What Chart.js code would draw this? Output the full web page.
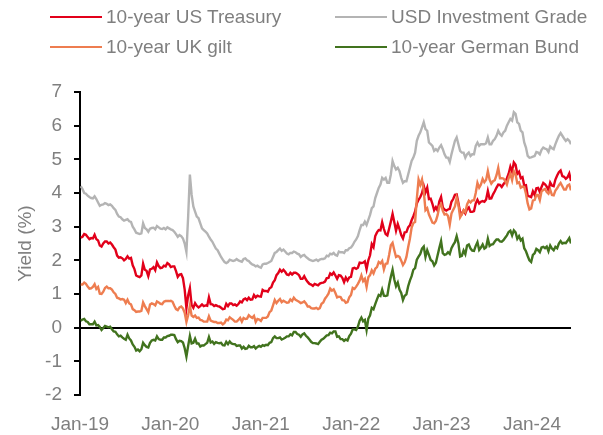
<!DOCTYPE html>
<html>
<head>
<meta charset="utf-8">
<script src="https://cdn.jsdelivr.net/npm/chart.js@4.4.1/dist/chart.umd.min.js"></script>
<style>
  html, body { margin: 0; padding: 0; background: #ffffff; }
  #wrap { position: relative; width: 603px; height: 435px; }
  #legend { position: absolute; left: 0; top: 0; width: 603px; height: 80px;
            font-family: "Liberation Sans", Arial, sans-serif; font-size: 19px; color: #7f7f7f; }
  .item { position: absolute; height: 24px; line-height: 24px; white-space: nowrap; }
  .item .ln { position: absolute; left: 0; top: 11px; width: 52px; height: 2px; }
  .item .tx { position: absolute; left: 56px; top: 0; }
</style>
</head>
<body>
<div id="wrap">
  <canvas id="c" width="603" height="435"></canvas>
  <div id="legend"></div>
</div>
<script>
// Weekly observations (Fridays), first one on this date
const startDate = '2019-01-04';
const xTickLabels = ['Jan-19', 'Jan-20', 'Jan-21', 'Jan-22', 'Jan-23', 'Jan-24'];
const seriesNames = ['10-year US Treasury', 'USD Investment Grade', '10-year UK gilt', '10-year German Bund'];

const usTreasury = [
  2.67,2.70,2.78,2.76, 2.69,2.63,2.66,2.65, 2.76,2.63,2.59,2.44,2.41, 2.50,2.56,2.56,2.50, 2.53,2.47,2.39,2.32,2.14, 2.08,2.09,2.06,2.00, 2.04,2.12,2.05,2.07, 1.85,1.74,1.55,1.52,1.50, 1.55,1.90,1.72,1.69, 1.53,1.73,1.75,1.80, 1.71,1.94,1.83,1.77,1.78, 1.84,1.82,1.92,1.88,
  1.80,1.82,1.82,1.68,1.51, 1.58,1.59,1.47,1.13, 0.58,0.96,1.18,0.67, 0.59,0.73,0.65,0.60, 0.64,0.69,0.64,0.66,0.65, 0.90,0.70,0.69,0.64, 0.67,0.64,0.63,0.59,0.55, 0.56,0.71,0.64,0.72, 0.72,0.67,0.69,0.65, 0.70,0.78,0.75,0.84,0.87, 0.82,0.89,0.83,0.84, 0.97,0.90,0.95,0.93,
  0.92,1.12,1.09,1.09,1.07, 1.17,1.20,1.34,1.41, 1.56,1.62,1.72,1.66, 1.72,1.66,1.58,1.56,1.63, 1.58,1.63,1.63,1.60, 1.56,1.45,1.45,1.53, 1.43,1.36,1.30,1.28,1.24, 1.30,1.28,1.26,1.31, 1.33,1.34,1.37,1.47, 1.48,1.61,1.57,1.64,1.55, 1.45,1.56,1.55,1.48, 1.35,1.49,1.40,1.49,1.51,
  1.76,1.78,1.75,1.78, 1.93,1.92,1.93,1.97, 1.74,2.00,2.15,2.48, 2.39,2.72,2.83,2.90,2.89, 3.13,2.93,2.78,2.74, 2.94,3.15,3.38,3.13, 2.88,3.08,2.93,2.75,2.65, 2.83,2.84,2.98,3.04, 3.19,3.31,3.45,3.69,3.80, 3.88,4.00,4.21,4.02, 4.16,3.82,3.83,3.68, 3.49,3.58,3.48,3.75,3.88,
  3.57,3.51,3.48,3.51, 3.53,3.74,3.82,3.95, 3.96,3.70,3.43,3.38,3.48, 3.39,3.52,3.57,3.44, 3.44,3.46,3.69,3.80, 3.69,3.74,3.76,3.74,3.81, 4.06,3.83,3.84,3.96, 4.05,4.16,4.25,4.24, 4.18,4.26,4.33,4.44,4.57, 4.78,4.63,4.91,4.84, 4.57,4.63,4.44,4.47, 4.22,4.23,3.91,3.90,3.88,
  4.05,3.94,4.14,4.15, 4.03,4.18,4.30,4.26, 4.19,4.08,4.31,4.22,4.20, 4.40,4.52,4.62,4.67, 4.50,4.48,4.42,4.47,4.58, 4.36
];

const usdInvestmentGrade = [
  4.20,4.12,4.00,3.98, 3.92,3.88,3.85,3.84, 3.90,3.82,3.72,3.62,3.65, 3.66,3.70,3.68,3.64, 3.66,3.62,3.55,3.50,3.38, 3.30,3.28,3.22,3.18, 3.20,3.22,3.16,3.14, 3.00,2.92,2.82,2.80,2.78, 2.80,3.10,2.96,2.92, 2.85,2.94,2.96,2.97, 2.92,3.02,2.98,2.94,2.93, 2.96,2.92,2.98,2.95,
  2.92,2.90,2.85,2.78,2.70, 2.75,2.72,2.65,2.50, 2.25,3.30,4.55,3.95, 3.60,3.45,3.30,3.25, 3.10,2.95,2.90,2.85,2.80, 2.70,2.62,2.55,2.45, 2.35,2.30,2.20,2.10,2.02, 1.95,1.92,1.95,2.02, 2.00,1.98,2.00,2.04, 2.00,1.98,1.96,2.04,2.06, 2.00,1.98,1.92,1.88, 1.86,1.82,1.84,1.80,
  1.78,1.88,1.90,1.90,1.92, 1.95,1.98,2.10,2.22, 2.25,2.30,2.35,2.28, 2.32,2.26,2.20,2.18,2.22, 2.22,2.26,2.24,2.20, 2.18,2.10,2.14,2.16, 2.10,2.06,2.02,2.00,1.98, 2.00,2.02,1.98,2.02, 2.04,2.04,2.06,2.14, 2.12,2.20,2.18,2.22,2.16, 2.14,2.26,2.24,2.24, 2.22,2.30,2.30,2.36,2.38,
  2.45,2.55,2.62,2.72, 2.90,3.05,3.05,3.15, 3.05,3.20,3.35,3.55, 3.60,3.85,4.00,4.15,4.25, 4.45,4.40,4.45,4.30, 4.30,4.55,4.95,4.80, 4.70,4.75,4.65,4.45,4.30, 4.35,4.35,4.55,4.75, 4.95,5.05,5.20,5.55,5.70, 5.80,5.95,6.10,5.90, 5.85,5.50,5.45,5.40, 5.25,5.30,5.25,5.35,5.42,
  5.30,5.15,5.05,5.05, 4.92,5.15,5.35,5.55, 5.65,5.45,5.25,5.20,5.20, 5.05,5.15,5.20,5.10, 5.15,5.15,5.40,5.50, 5.40,5.45,5.45,5.45,5.48, 5.65,5.45,5.45,5.55, 5.60,5.70,5.85,5.75, 5.70,5.80,5.85,6.00,6.10, 6.20,6.15,6.40,6.35, 6.10,6.05,5.85,5.80, 5.50,5.35,5.10,5.05,5.06,
  5.08,5.10,5.22,5.20, 5.15,5.28,5.35,5.32, 5.30,5.22,5.38,5.33,5.30, 5.45,5.58,5.70,5.78, 5.70,5.62,5.55,5.60,5.55, 5.45
];

const ukGilt = [
  1.28,1.28,1.34,1.30, 1.22,1.16,1.17,1.21, 1.29,1.15,1.21,1.01,1.00, 1.07,1.18,1.22,1.17, 1.17,1.13,1.05,1.00,0.89, 0.87,0.84,0.85,0.83, 0.73,0.83,0.72,0.69, 0.55,0.52,0.47,0.48,0.48, 0.50,0.75,0.64,0.55, 0.46,0.69,0.72,0.70, 0.66,0.78,0.75,0.71,0.70, 0.77,0.79,0.79,0.79,
  0.80,0.77,0.65,0.55,0.52, 0.60,0.63,0.57,0.44, 0.17,0.37,0.65,0.36, 0.32,0.36,0.29,0.30, 0.23,0.22,0.18,0.18,0.18, 0.34,0.21,0.19,0.17, 0.17,0.14,0.14,0.15,0.10, 0.14,0.24,0.22,0.31, 0.27,0.23,0.18,0.18, 0.23,0.29,0.18,0.29,0.26, 0.27,0.37,0.32,0.29, 0.35,0.17,0.26,0.24,
  0.20,0.29,0.29,0.29,0.33, 0.46,0.51,0.66,0.82, 0.73,0.80,0.85,0.76, 0.80,0.77,0.74,0.75,0.84, 0.79,0.89,0.83,0.80, 0.77,0.73,0.75,0.78, 0.72,0.63,0.63,0.58,0.57, 0.57,0.59,0.55,0.58, 0.71,0.75,0.86,0.93, 1.01,1.16,1.10,1.14,1.03, 0.90,0.92,0.91,0.82, 0.81,0.74,0.76,0.90,0.97,
  1.18,1.15,1.22,1.30, 1.40,1.55,1.38,1.45, 1.21,1.50,1.56,1.70, 1.61,1.75,1.80,1.95,1.91, 1.98,1.73,1.90,1.91, 2.16,2.45,2.52,2.30, 2.10,2.13,2.10,1.99,1.86, 1.94,2.10,2.39,2.64, 2.97,3.11,3.14,3.83,4.40, 4.24,4.40,4.05,3.49, 3.55,3.36,3.24,3.12, 3.10,3.17,3.34,3.60,3.67,
  3.47,3.36,3.38,3.32, 3.06,3.39,3.50,3.60, 3.86,3.65,3.28,3.37,3.49, 3.43,3.66,3.77,3.72, 3.78,3.78,4.00,4.30, 4.16,4.25,4.42,4.32,4.39, 4.65,4.40,4.28,4.35, 4.38,4.53,4.75,4.44, 4.44,4.43,4.36,4.25,4.44, 4.57,4.38,4.65,4.55, 4.29,4.32,4.16,4.19, 4.18,3.98,3.69,3.51,3.54,
  3.78,3.79,3.94,3.94, 3.79,4.05,4.09,4.12, 4.03,3.98,4.10,3.94,3.93, 4.07,4.14,4.23,4.30, 4.20,4.10,4.10,4.22,4.25, 4.08
];

const germanBund = [
  0.21,0.24,0.26,0.19, 0.17,0.10,0.10,0.10, 0.18,0.07,0.08,0.02,-0.07, -0.01,0.05,0.03,0.01, 0.03,-0.05,-0.11,-0.12,-0.20, -0.26,-0.24,-0.29,-0.33, -0.36,-0.21,-0.32,-0.38, -0.50,-0.57,-0.68,-0.65,-0.70, -0.64,-0.45,-0.52,-0.57, -0.59,-0.45,-0.38,-0.36, -0.38,-0.26,-0.34,-0.36,-0.36, -0.29,-0.29,-0.25,-0.24,
  -0.21,-0.21,-0.22,-0.34,-0.43, -0.39,-0.40,-0.44,-0.61, -0.86,-0.54,-0.25,-0.47, -0.45,-0.33,-0.47,-0.47, -0.56,-0.53,-0.53,-0.49,-0.45, -0.28,-0.44,-0.41,-0.48, -0.43,-0.45,-0.46,-0.45,-0.52, -0.53,-0.42,-0.49,-0.41, -0.47,-0.49,-0.49,-0.54, -0.53,-0.53,-0.62,-0.57,-0.63, -0.62,-0.54,-0.58,-0.58, -0.55,-0.62,-0.57,-0.54,
  -0.57,-0.52,-0.54,-0.51,-0.52, -0.45,-0.43,-0.31,-0.26, -0.31,-0.31,-0.29,-0.35, -0.33,-0.30,-0.26,-0.26,-0.20, -0.23,-0.13,-0.13,-0.19, -0.21,-0.27,-0.20,-0.17, -0.24,-0.29,-0.35,-0.42,-0.46, -0.46,-0.47,-0.49,-0.42, -0.36,-0.33,-0.28,-0.23, -0.22,-0.15,-0.17,-0.11,-0.11, -0.27,-0.26,-0.34,-0.34, -0.39,-0.35,-0.38,-0.25,-0.18,
  -0.05,-0.05,-0.07,0.03, 0.21,0.30,0.19,0.23, -0.07,0.27,0.37,0.59, 0.55,0.70,0.84,0.97,0.94, 1.13,0.95,0.94,0.96, 1.27,1.51,1.72,1.43, 1.23,1.34,1.13,1.03,0.82, 0.95,0.99,1.23,1.40, 1.53,1.72,1.77,2.02,2.11, 2.19,2.35,2.41,2.10, 2.30,2.16,2.01,1.97, 1.85,1.93,2.15,2.37,2.57,
  2.21,2.16,2.18,2.24, 2.19,2.36,2.46,2.54, 2.72,2.51,2.11,2.13,2.29, 2.18,2.44,2.47,2.35, 2.29,2.28,2.43,2.54, 2.31,2.38,2.47,2.35,2.39, 2.64,2.43,2.47,2.48, 2.56,2.62,2.62,2.56, 2.55,2.60,2.67,2.74,2.84, 2.88,2.74,2.89,2.83, 2.64,2.72,2.59,2.64, 2.36,2.27,2.13,2.00,1.95,
  2.16,2.21,2.34,2.30, 2.24,2.38,2.40,2.36, 2.41,2.27,2.44,2.35,2.30, 2.40,2.36,2.50,2.57, 2.50,2.52,2.51,2.58,2.66, 2.50
];

// x position of each weekly point, in years since 1 Jan 2019
const DAY = 86400000;
const t0 = Date.UTC(2019, 0, 1);
const first = Date.parse(startDate + 'T00:00:00Z');
const xYears = usTreasury.map((_, i) => (first + i * 7 * DAY - t0) / (365.25 * DAY));

const toPts = arr => arr.map((v, i) => ({ x: xYears[i], y: v }));

const GREY = '#7f7f7f';
const FONT = { family: '"Liberation Sans", Arial, sans-serif', size: 19 };

const colors = ['#e2001a', '#b4b4b4', '#ee7d50', '#41731e'];
const values = [usTreasury, usdInvestmentGrade, ukGilt, germanBund];
const drawOrder = [4, 3, 2, 1];

const chart = new Chart(document.getElementById('c'), {
  type: 'line',
  data: {
    datasets: values.map((arr, k) => ({
      label: seriesNames[k],
      data: toPts(arr),
      borderColor: colors[k],
      backgroundColor: colors[k],
      borderWidth: 2.4,
      pointRadius: 0,
      tension: 0,
      fill: false,
      order: drawOrder[k]
    }))
  },
  options: {
    responsive: false,
    animation: false,
    layout: { padding: { top: 92, right: 32, left: 0, bottom: 0 } },
    plugins: { legend: { display: false }, tooltip: { enabled: false } },
    scales: {
      x: {
        type: 'linear',
        min: 0,
        max: xYears[xYears.length - 1],
        grid: { display: false },
        border: { display: false },
        ticks: {
          color: GREY, font: FONT, padding: 10, maxRotation: 0, autoSkip: false,
          callback: (v) => xTickLabels[Math.round(v)]
        },
        afterBuildTicks: s => { s.ticks = xTickLabels.map((_, i) => ({ value: i })); },
        afterFit: s => { s.height = 40; }
      },
      y: {
        min: -2, max: 7,
        ticks: { stepSize: 1, color: GREY, font: FONT, padding: 12 },
        grid: {
          drawOnChartArea: true,
          color: c => (c.tick && c.tick.value === 0) ? '#000000' : 'rgba(0,0,0,0)',
          lineWidth: 2,
          tickColor: '#000000',
          tickLength: 6,
          drawTicks: true
        },
        border: { display: true, color: '#000000', width: 2 },
        title: { display: true, text: 'Yield (%)', color: GREY, font: FONT, padding: { top: 14, bottom: 0 } },
        afterFit: s => { s.width = 80; }
      }
    }
  }
});

// Legend built from the chart's datasets
const legendPos = [[50, 5], [335, 5], [50, 35], [335, 35]];
const lg = document.getElementById('legend');
chart.data.datasets.forEach((ds, k) => {
  const it = document.createElement('div');
  it.className = 'item';
  it.style.left = legendPos[k][0] + 'px';
  it.style.top = legendPos[k][1] + 'px';
  const ln = document.createElement('span');
  ln.className = 'ln';
  ln.style.background = ds.borderColor;
  const tx = document.createElement('span');
  tx.className = 'tx';
  tx.textContent = ds.label;
  it.appendChild(ln); it.appendChild(tx);
  lg.appendChild(it);
});
</script>
</body>
</html>
